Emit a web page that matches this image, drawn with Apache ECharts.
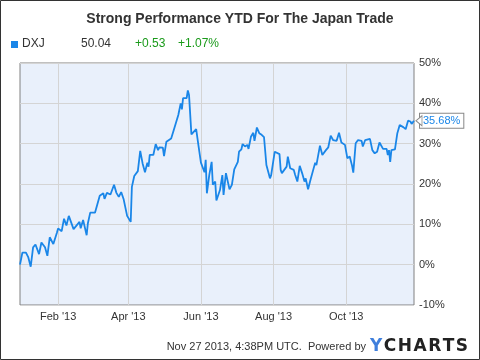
<!DOCTYPE html>
<html>
<head>
<meta charset="utf-8">
<script src="https://cdn.jsdelivr.net/npm/echarts@6/dist/echarts.min.js"></script>
<style>
html,body{margin:0;padding:0;background:#fff;}
#chart{width:480px;height:360px;}
</style>
</head>
<body>
<div id="chart"></div>
<script>
// ---- Data ----
const titleText = "Strong Performance YTD For The Japan Trade";
const ticker = "DXJ";
const lastPrice = "50.04";
const change = "+0.53";
const changePct = "+1.07%";
const footerText = "Nov 27 2013, 4:38PM UTC.  Powered by";

const tickDates = ['2013-02-01', '2013-04-01', '2013-06-01', '2013-08-01', '2013-10-01'];
const tickLabels = ["Feb '13", "Apr '13", "Jun '13", "Aug '13", "Oct '13"];
const xMin = '2012-12-31';
const xMax = '2013-11-27';

const dates = [
'2012-12-31','2013-01-02','2013-01-03','2013-01-05','2013-01-07','2013-01-09','2013-01-11','2013-01-13','2013-01-14','2013-01-16',
'2013-01-18','2013-01-21','2013-01-23','2013-01-25','2013-01-28','2013-01-31','2013-02-01','2013-02-04','2013-02-06','2013-02-08',
'2013-02-10','2013-02-14','2013-02-19','2013-02-20','2013-02-22','2013-02-25','2013-02-26','2013-02-28','2013-03-04','2013-03-06',
'2013-03-08','2013-03-11','2013-03-12','2013-03-14','2013-03-17','2013-03-20','2013-03-22','2013-03-24','2013-03-26','2013-03-28',
'2013-03-31','2013-04-03','2013-04-04','2013-04-06','2013-04-09','2013-04-11','2013-04-13','2013-04-15','2013-04-17','2013-04-18',
'2013-04-19','2013-04-22','2013-04-24','2013-04-26','2013-04-27','2013-04-30','2013-05-01','2013-05-03','2013-05-07','2013-05-09',
'2013-05-13','2013-05-15','2013-05-16','2013-05-17','2013-05-20','2013-05-21','2013-05-22','2013-05-24','2013-05-28','2013-05-30',
'2013-06-01','2013-06-04','2013-06-05','2013-06-06','2013-06-08','2013-06-10','2013-06-11','2013-06-13','2013-06-14','2013-06-17',
'2013-06-19','2013-06-20','2013-06-22','2013-06-25','2013-06-27','2013-06-29','2013-07-02','2013-07-03','2013-07-05','2013-07-06',
'2013-07-08','2013-07-10','2013-07-11','2013-07-13','2013-07-15','2013-07-16','2013-07-18','2013-07-20','2013-07-22','2013-07-24',
'2013-07-26','2013-07-29','2013-07-30','2013-07-31','2013-08-02','2013-08-06','2013-08-07','2013-08-08','2013-08-10','2013-08-12',
'2013-08-13','2013-08-15','2013-08-18','2013-08-19','2013-08-21','2013-08-23','2013-08-25','2013-08-27','2013-08-28','2013-08-30',
'2013-09-01','2013-09-05','2013-09-06','2013-09-09','2013-09-11','2013-09-14','2013-09-16','2013-09-18','2013-09-20','2013-09-23',
'2013-09-25','2013-09-27','2013-09-30','2013-10-02','2013-10-04','2013-10-06','2013-10-07','2013-10-09','2013-10-11','2013-10-14',
'2013-10-15','2013-10-17','2013-10-21','2013-10-23','2013-10-25','2013-10-27','2013-10-29','2013-11-01','2013-11-04','2013-11-05',
'2013-11-06','2013-11-07','2013-11-08','2013-11-11','2013-11-13','2013-11-15','2013-11-18','2013-11-20','2013-11-22','2013-11-24',
'2013-11-25','2013-11-27'
];
const values = [
0.0,3.0,2.8,3.0,1.8,-0.5,4.3,5.0,5.3,2.6,
5.5,4.3,2.2,6.8,5.1,7.9,9.0,8.3,11.4,9.7,
12.1,8.8,10.6,9.0,11.1,7.3,10.2,12.9,12.9,15.0,
17.1,17.7,16.3,17.8,17.4,19.8,17.8,16.8,18.0,16.3,
12.1,10.6,19.3,22.0,23.2,28.2,25.1,22.9,25.3,24.3,
27.2,27.2,29.9,28.4,29.1,29.0,26.9,30.5,31.3,33.2,
37.1,40.0,38.5,41.3,41.3,43.2,42.1,32.3,33.6,29.4,
25.3,22.9,26.0,17.7,22.2,25.5,19.8,20.6,15.9,18.5,
22.2,17.3,22.7,18.7,19.8,23.6,25.5,28.0,28.6,29.9,
29.3,29.7,28.7,31.7,32.7,30.7,34.0,32.6,32.2,31.6,
24.7,21.4,22.2,22.0,28.0,27.4,23.5,22.7,23.5,24.3,
26.8,23.9,23.5,22.4,20.6,24.5,22.7,20.6,21.4,18.7,
21.0,25.3,24.7,29.5,27.2,28.4,29.1,32.0,30.9,30.7,
32.7,30.3,29.7,26.4,26.8,24.5,22.8,30.1,30.9,30.7,
29.3,30.9,31.2,28.4,27.6,28.0,30.3,28.7,28.7,27.2,
28.4,25.5,28.4,28.6,32.6,34.6,34.1,33.6,35.7,35.5,
34.9,35.68
];
const yMin = -10, yMax = 50, yStep = 10;

// ---- Chart ----
const FONT = 'Liberation Sans, Arial, sans-serif';
const lineColor = '#1a86e8';
function toMs(s) { const p = s.split('-'); return Date.UTC(+p[0], +p[1] - 1, +p[2]); }
const seriesData = dates.map((d, i) => [toMs(d), values[i]]);
const tickMs = tickDates.map(toMs);
const tickMap = {};
tickMs.forEach((t, i) => { tickMap[t] = tickLabels[i]; });
const last = seriesData[seriesData.length - 1];

const chart = echarts.init(document.getElementById('chart'), null, {renderer: 'canvas'});
chart.setOption({
  animation: false,
  backgroundColor: '#fff',
  textStyle: {fontFamily: FONT},
  title: {
    text: titleText,
    left: 'center',
    top: 7,
    textStyle: {fontFamily: FONT, fontSize: 14, fontWeight: 'bold', color: '#333'}
  },
  grid: {
    left: 20, right: 66, top: 63, bottom: 55,
    show: true, backgroundColor: '#e9f0fb', borderColor: '#808080', borderWidth: 1
  },
  xAxis: {
    type: 'value',
    min: toMs(xMin), max: toMs(xMax),
    axisLine: {show: false},
    axisTick: {show: false, customValues: tickMs},
    splitLine: {show: true, lineStyle: {color: '#d4d4d4', width: 1}},
    axisLabel: {
      customValues: tickMs,
      margin: 6,
      color: '#333', fontSize: 11, fontFamily: FONT,
      formatter: function (v) { return tickMap[v] || ''; }
    }
  },
  yAxis: {
    type: 'value',
    position: 'right',
    min: yMin, max: yMax, interval: yStep,
    axisLine: {show: false},
    axisTick: {show: false},
    splitLine: {show: true, lineStyle: {color: '#d4d4d4', width: 1}},
    axisLabel: {margin: 5, color: '#333', fontSize: 11, fontFamily: FONT, formatter: '{value}%'}
  },
  series: [{
    type: 'line',
    data: seriesData,
    showSymbol: false,
    symbol: 'none',
    lineStyle: {color: lineColor, width: 1.8},
    itemStyle: {color: lineColor},
    endLabel: {
      show: true,
      distance: 6,
      formatter: function (p) { return p.value[1].toFixed(2) + '%'; },
      color: lineColor, fontSize: 11, fontFamily: FONT,
      backgroundColor: '#fff', borderColor: '#888', borderWidth: 1,
      padding: [2, 3, 1, 3]
    },
    markPoint: {
      silent: true,
      symbol: 'triangle',
      symbolSize: [10, 6],
      symbolRotate: 90,
      symbolOffset: [5, 0],
      itemStyle: {color: '#fff', borderColor: '#888', borderWidth: 1},
      label: {show: false},
      data: [{coord: last}]
    }
  }],
  graphic: [
    {type: 'rect', shape: {x: 0.5, y: 0.5, width: 479, height: 359}, style: {fill: 'none', stroke: '#333', lineWidth: 1}, silent: true},
    {type: 'rect', shape: {x: 11, y: 41, width: 7, height: 7}, style: {fill: lineColor}},
    {type: 'text', left: 22, top: 38, style: {text: ticker, font: '12px ' + FONT, fill: '#333'}},
    {type: 'text', left: 81, top: 38, style: {text: lastPrice, font: '12px ' + FONT, fill: '#333'}},
    {type: 'text', left: 135, top: 38, style: {text: change, font: '12px ' + FONT, fill: '#1a9a1a'}},
    {type: 'text', left: 178, top: 38, style: {text: changePct, font: '12px ' + FONT, fill: '#1a9a1a'}},
    {type: 'text', right: 114, top: 341, style: {text: footerText, font: '11px ' + FONT, fill: '#333'}},
    {type: 'text', left: 370, top: 338, style: {
      text: '{y|Y}{b|C}{b|H}{b|A}{b|R}{b|T}{b|S}',
      rich: {
        y: {fontFamily: 'DejaVu Sans', fontWeight: 'bold', fontSize: 17, fill: '#3f7fdc', padding: [0, 1.5, 0, 0]},
        b: {fontFamily: 'DejaVu Sans', fontWeight: 'bold', fontSize: 17, fill: '#222', padding: [0, 1.5, 0, 0]}
      }
    }}
  ]
});
</script>
</body>
</html>
